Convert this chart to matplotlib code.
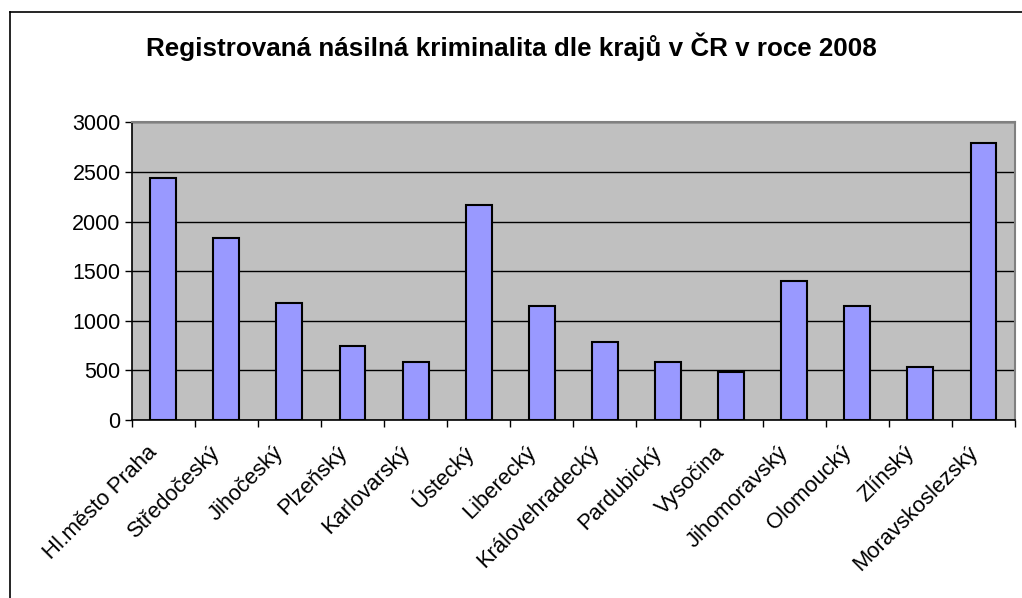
# Registrovaná násilná kriminalita dle krajů v ČR v roce 2008

import numpy as np
import matplotlib.pyplot as plt
import matplotlib.transforms as mtransforms
from matplotlib.lines import Line2D

kraje = ['Hl.město Praha', 'Středočeský', 'Jihočeský', 'Plzeňský', 'Karlovarský',
         'Ústecký', 'Liberecký', 'Královehradecký', 'Pardubický', 'Vysočina',
         'Jihomoravský', 'Olomoucký', 'Zlínský', 'Moravskoslezský']
pocty = [2435, 1830, 1180, 745, 582, 2165, 1145, 782, 582, 480, 1405, 1145, 537, 2795]
yticks = [0, 500, 1000, 1500, 2000, 2500, 3000]

plt.rcParams['font.family'] = ['Liberation Sans', 'DejaVu Sans']

W, H = 1022, 598
fig = plt.figure(figsize=(W / 100, H / 100), dpi=100)
ax = fig.add_axes([131.7 / W, 1 - 420 / H, (1015 - 131.7) / W, (420 - 122.3) / H])

x = np.arange(len(kraje))
ax.set_facecolor('#c0c0c0')
ax.bar(x, pocty, width=0.41, color='#9999ff', edgecolor='black', linewidth=1.5, zorder=3)

ax.set_xlim(-0.5, len(kraje) - 0.5)
ax.set_ylim(0, 3000)
ax.set_yticks(yticks)
ax.set_yticklabels([str(v) for v in yticks], fontsize=15.5)
ax.yaxis.grid(True, color='black', linewidth=1, zorder=1)

# ticks between categories, labels at centres
ax.set_xticks(np.arange(len(kraje) + 1) - 0.5)
ax.set_xticklabels([])
ax.set_xticks(x, minor=True)
ax.set_xticklabels(kraje, minor=True, rotation=45, ha='right', va='center',
                   rotation_mode='anchor', fontsize=15.8)
ax.tick_params(axis='x', which='minor', length=0, pad=19)
ax.tick_params(axis='x', which='major', direction='out', length=5, width=1)
ax.tick_params(axis='y', direction='out', length=5, width=1, pad=3)

shift = mtransforms.ScaledTranslation(-9 / 100, -3 / 100, fig.dpi_scale_trans)
for lab in ax.get_xticklabels(minor=True):
    lab.set_transform(lab.get_transform() + shift)

for s in ['top', 'right']:
    ax.spines[s].set_color('#808080')
    ax.spines[s].set_linewidth(1.5)
for s in ['left', 'bottom']:
    ax.spines[s].set_color('black')
    ax.spines[s].set_linewidth(1.2)

fig.text(0.5, 1 - 47 / H, 'Registrovaná násilná kriminalita dle krajů v ČR v roce 2008',
         ha='center', va='center', fontsize=18.7, fontweight='bold')

# chart frame
fig.add_artist(Line2D([10 / W, 10 / W], [0, 1 - 12 / H], color='black', linewidth=1.2))
fig.add_artist(Line2D([10 / W, 1], [1 - 12 / H, 1 - 12 / H], color='black', linewidth=1.2))

fig.savefig('out.png', dpi=100)
